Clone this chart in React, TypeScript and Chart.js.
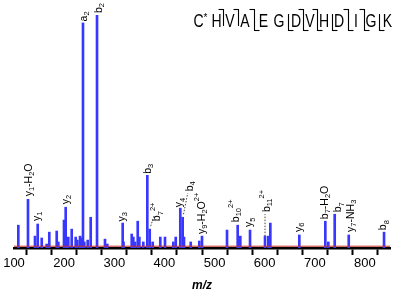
import React, { useEffect, useRef } from 'react';
import { Chart, registerables } from 'chart.js';

Chart.register(...registerables);

// ---- Data ----
const peakMz = [
  108.6, 127.9, 141.9, 147.3, 155.3, 165.2, 170.4, 185.2, 188.4, 199.7,
  203.1, 208.3, 215.1, 223.1, 226.3, 231.7, 234.2, 237.6, 240.2, 247.0,
  253.0, 265.6, 281.5, 286.1, 316.8, 318.4, 334.8, 338.0, 341.4, 346.8,
  350.0, 357.9, 365.9, 370.7, 376.7, 391.8, 401.2, 417.8, 422.6, 431.7,
  436.5, 439.1, 452.5, 469.6, 475.0, 524.9, 546.2, 551.4, 570.8, 600.7,
  607.3, 611.3, 669.1, 721.0, 727.0, 739.7, 767.7, 838.1,
];
const peakIntensity = [
  9.8, 20.9, 5.1, 10.3, 4.3, 1.7, 6.8, 7.3, 2.6, 12.0,
  17.5, 4.7, 8.1, 4.7, 3.4, 5.1, 4.3, 96.6, 2.6, 3.4,
  13.2, 100, 3.8, 1.7, 10.7, 2.6, 6.0, 4.7, 2.6, 11.5,
  4.7, 2.6, 31.2, 8.1, 2.6, 4.7, 4.7, 2.6, 4.7, 17.1,
  13.2, 4.7, 2.6, 3.0, 5.1, 7.7, 9.8, 5.1, 7.7, 5.1,
  5.1, 10.7, 5.6, 11.5, 2.6, 14.5, 5.6, 6.8,
];

const ionLabels = [
  'y_{1}-H_{2}O', 'y_{1}', 'y_{2}', 'a_{2}', 'b_{2}', 'y_{3}', 'b_{3}', 'b_{7}^{2+}',
  'y_{4}', 'b_{4}', 'y_{9}-H_{2}O^{2+}', 'b_{10}^{2+}', 'y_{5}', 'b_{11}^{2+}', 'y_{6}',
  'b_{7}-H_{2}O', 'b_{7}', 'y_{7}-NH_{3}', 'b_{8}',
];
const ionPeakMz = [
  127.9, 147.3, 203.1, 237.6, 265.6, 316.8, 365.9, 370.7,
  431.7, 436.5, 475.0, 546.2, 570.8, 600.7, 669.1,
  721.0, 739.7, 767.7, 838.1,
];

const sequence = ['C', 'H', 'V', 'A', 'E', 'G', 'D', 'V', 'H', 'D', 'I', 'G', 'K'];
const modifiedResidues = [0]; // C*
const bIonNumbers = [2, 3, 4, 7, 8, 10, 11];
const yIonNumbers = [1, 2, 3, 4, 5, 6, 7, 9];

const xMin = 100;
const xMax = 850;
const xStep = 50;
const xLabelEvery = 100;
const xTitle = 'm/z';

// ---- Layout (not data) ----
// [dx, gap, leader: [x1,y1,x2,y2] relative to peak top] for each ion label
const labelOffsets: { dx: number; gap: number; leader?: number[] }[] = [
  { dx: 0, gap: 3 },
  { dx: -1.5, gap: 3 },
  { dx: -0.5, gap: 3 },
  { dx: 0, gap: 1.5 },
  { dx: 1, gap: 2 },
  { dx: -1.5, gap: 1.5 },
  { dx: 0, gap: 1.5 },
  { dx: 7, gap: 8, leader: [1, -3, 4.5, -14] },
  { dx: -1.5, gap: 1 },
  { dx: 6.5, gap: 26, leader: [0.8, -3, 5, -24] },
  { dx: -1, gap: 2 },
  { dx: -2.5, gap: 3 },
  { dx: -1.3, gap: 3 },
  { dx: 1, gap: 24, leader: [0, 0, 0, -22] },
  { dx: -1.3, gap: 3 },
  { dx: -1, gap: 2 },
  { dx: 3, gap: 2 },
  { dx: 1.3, gap: 3 },
  { dx: -1.3, gap: 2 },
];
const letterCenters = [198.5, 216.5, 230, 245, 263.5, 279, 296, 310, 324, 339, 356, 371, 387.5];

type Seg = { t: string; m: number };
function parseLabel(s: string): Seg[] {
  const out: Seg[] = [];
  let i = 0;
  while (i < s.length) {
    const c = s[i];
    if ((c === '_' || c === '^') && s[i + 1] === '{') {
      const j = s.indexOf('}', i);
      out.push({ t: s.slice(i + 2, j), m: c === '_' ? 1 : 2 });
      i = j + 1;
    } else {
      let j = i;
      while (j < s.length && !((s[j] === '_' || s[j] === '^') && s[j + 1] === '{')) j++;
      out.push({ t: s.slice(i, j), m: 0 });
      i = j;
    }
  }
  return out;
}

const LABEL_FONT = '"Liberation Sans", Arial, sans-serif';

const annotPlugin = {
  id: 'annot',
  afterDraw(chart: any) {
    const { ctx, chartArea } = chart;
    const xs = chart.scales.x;
    const ys = chart.scales.y;
    ctx.save();
    // red baseline
    ctx.strokeStyle = 'rgb(200,45,40)';
    ctx.lineWidth = 1;
    ctx.beginPath();
    ctx.moveTo(chartArea.left, chartArea.bottom - 1.8);
    ctx.lineTo(chartArea.right, chartArea.bottom - 1.8);
    ctx.stroke();

    // ion labels
    ctx.fillStyle = '#000';
    ionLabels.forEach((lab, k) => {
      const mz = ionPeakMz[k];
      const idx = peakMz.indexOf(mz);
      const inten = peakIntensity[idx];
      const px = xs.getPixelForValue(mz);
      const py = ys.getPixelForValue(inten);
      const off = labelOffsets[k];
      if (off.leader) {
        const [a, b, c, d] = off.leader;
        ctx.save();
        ctx.strokeStyle = '#444';
        ctx.lineWidth = 1;
        ctx.setLineDash([1.5, 1.5]);
        ctx.beginPath();
        ctx.moveTo(px + a, py + b);
        ctx.lineTo(px + c, py + d);
        ctx.stroke();
        ctx.restore();
      }
      const segs = parseLabel(lab);
      ctx.save();
      ctx.translate(px + off.dx, py - off.gap);
      ctx.rotate(-Math.PI / 2);
      ctx.textAlign = 'left';
      ctx.textBaseline = 'alphabetic';
      let pos = 0;
      segs.forEach((sg) => {
        const size = sg.m === 0 ? 10.5 : 7.5;
        ctx.font = `${size}px ${LABEL_FONT}`;
        const base = sg.m === 0 ? 3.6 : sg.m === 1 ? 5.8 : -2.2;
        ctx.fillText(sg.t, pos, base);
        pos += ctx.measureText(sg.t).width;
      });
      ctx.restore();
    });

    // peptide sequence with fragmentation marks
    ctx.fillStyle = '#000';
    ctx.textAlign = 'center';
    ctx.textBaseline = 'alphabetic';
    sequence.forEach((res, i) => {
      ctx.save();
      ctx.translate(letterCenters[i], 27);
      ctx.scale(0.78, 1);
      ctx.font = `18px ${LABEL_FONT}`;
      ctx.fillText(res, 0, 0);
      ctx.restore();
      if (modifiedResidues.includes(i)) {
        ctx.font = `10px ${LABEL_FONT}`;
        ctx.fillText('*', letterCenters[i] + 7, 20.5);
      }
    });
    const n = sequence.length;
    ctx.strokeStyle = '#000';
    ctx.lineWidth = 1.1;
    for (let cut = 1; cut < n; cut++) {
      const hasB = bIonNumbers.includes(cut);
      const hasY = yIonNumbers.includes(n - cut);
      if (!hasB && !hasY) continue;
      const cx = Math.round((letterCenters[cut - 1] + letterCenters[cut]) / 2) + 0.5;
      const top = hasB ? 9 : 14;
      const bot = hasY ? 31 : 26;
      ctx.beginPath();
      ctx.moveTo(cx, top);
      ctx.lineTo(cx, bot);
      ctx.stroke();
      if (hasB) {
        ctx.beginPath();
        ctx.moveTo(cx, top + 0.5);
        ctx.lineTo(cx - 5, top + 0.5);
        ctx.stroke();
      }
      if (hasY) {
        ctx.beginPath();
        ctx.moveTo(cx, bot - 0.5);
        ctx.lineTo(cx + 5, bot - 0.5);
        ctx.stroke();
      }
    }
    ctx.restore();
  },
};

export default function App() {
  const ref = useRef<HTMLCanvasElement | null>(null);
  useEffect(() => {
    if (!ref.current) return;
    const chart = new Chart(ref.current, {
      type: 'bar',
      data: {
        datasets: [
          {
            data: peakMz.map((m, i) => ({ x: m, y: peakIntensity[i] })),
            backgroundColor: 'rgb(55,55,255)',
            borderWidth: 0,
            barThickness: 2,
          } as any,
        ],
      },
      options: {
        animation: false,
        responsive: false,
        devicePixelRatio: 1,
        layout: { padding: { left: 14, right: 6, top: 15, bottom: 0 } },
        plugins: { legend: { display: false }, tooltip: { enabled: false } },
        scales: {
          x: {
            type: 'linear',
            min: xMin,
            max: xMax,
            offset: false,
            z: 1,
            grid: {
              display: true,
              drawOnChartArea: false,
              drawTicks: true,
              tickLength: 7,
              tickWidth: 2,
              tickColor: '#000',
            },
            border: { display: true, color: '#000', width: 2.5 },
            ticks: {
              stepSize: xStep,
              autoSkip: false,
              maxRotation: 0,
              padding: 1,
              color: '#000',
              font: { family: '"Liberation Sans Narrow", "Liberation Sans", Arial, sans-serif', size: 13 },
              callback: (v: any) => (Number(v) % xLabelEvery === 0 ? String(v) : ''),
            },
            title: {
              display: true,
              text: xTitle,
              color: '#000',
              padding: { top: 6, bottom: 0 },
              font: { family: '"Liberation Sans", Arial, sans-serif', size: 12, style: 'italic', weight: 'bold' },
            },
          },
          y: { display: false, min: 0, max: 100 },
        },
      },
      plugins: [annotPlugin],
    });
    return () => chart.destroy();
  }, []);
  return (
    <div style={{ position: 'fixed', left: 0, top: 0, width: 396, height: 293, background: '#fff' }}>
      <canvas ref={ref} width={396} height={293} style={{ display: 'block' }} />
    </div>
  );
}
